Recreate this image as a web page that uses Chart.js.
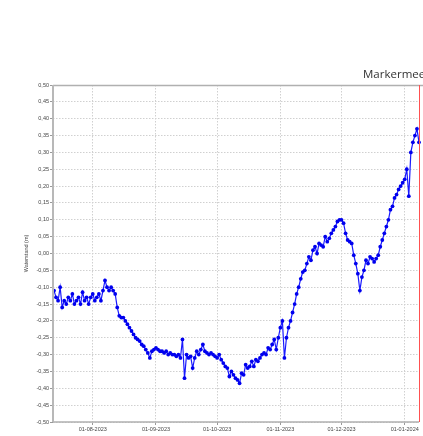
<!DOCTYPE html>
<html>
<head>
<meta charset="utf-8">
<script src="https://cdn.jsdelivr.net/npm/chart.js@4"></script>
<style>
  html, body { margin: 0; padding: 0; background: #fff; overflow: hidden; }
  #wrap { width: 423px; height: 436px; }
</style>
</head>
<body>
<div id="wrap"><canvas id="chart" width="423" height="436"></canvas></div>
<script>
// Waterstand Markermeer (m), one reading per day
const julyValues = [-0.11, -0.13, -0.14, -0.10, -0.16, -0.14, -0.15, -0.13, -0.14, -0.12,
    -0.15, -0.14, -0.13, -0.15, -0.115, -0.14, -0.13, -0.15, -0.13]; // 13-31 jul
const augValues = [-0.12, -0.14, -0.13, -0.12, -0.14, -0.11, -0.08, -0.10, -0.11, -0.10,
    -0.11, -0.12, -0.16, -0.185, -0.19, -0.19, -0.20, -0.21, -0.22, -0.23,
    -0.24, -0.25, -0.255, -0.26, -0.27, -0.275, -0.285, -0.295, -0.31, -0.29, -0.285];
const sepValues = [-0.28, -0.285, -0.29, -0.29, -0.295, -0.29, -0.30, -0.295, -0.30, -0.30,
    -0.305, -0.30, -0.31, -0.255, -0.37, -0.30, -0.31, -0.305, -0.34, -0.31,
    -0.29, -0.30, -0.285, -0.27, -0.29, -0.295, -0.30, -0.295, -0.30, -0.305];
const octValues = [-0.31, -0.30, -0.315, -0.325, -0.335, -0.34, -0.365, -0.35, -0.36, -0.37,
    -0.375, -0.385, -0.355, -0.36, -0.33, -0.34, -0.335, -0.32, -0.335, -0.315,
    -0.32, -0.31, -0.30, -0.295, -0.30, -0.28, -0.285, -0.27, -0.255, -0.285, -0.25];
const novValues = [-0.22, -0.20, -0.31, -0.25, -0.22, -0.20, -0.175, -0.15, -0.12, -0.10,
    -0.075, -0.055, -0.05, -0.03, -0.01, -0.02, 0.01, 0.02, 0.00, 0.03,
    0.025, 0.02, 0.05, 0.035, 0.045, 0.06, 0.07, 0.08, 0.095, 0.10];
const decValues = [0.10, 0.09, 0.06, 0.04, 0.035, 0.03, -0.005, -0.03, -0.06, -0.11,
    -0.07, -0.05, -0.02, -0.03, -0.01, -0.015, -0.025, -0.015, -0.005, 0.02,
    0.04, 0.06, 0.08, 0.10, 0.13, 0.14, 0.165, 0.175, 0.19, 0.20, 0.21];
const janValues = [0.22, 0.25, 0.17, 0.30, 0.33, 0.35, 0.37, 0.33]; // 1-8 jan

// first day of each block above
const blockStarts = ['2023-07-13', '2023-08-01', '2023-09-01', '2023-10-01',
    '2023-11-01', '2023-12-01', '2024-01-01'];
const blocks = [julyValues, augValues, sepValues, octValues, novValues, decValues, janValues];

// x axis tick labels (dd-mm-yyyy)
const xTickLabels = ['01-08-2023', '01-09-2023', '01-10-2023', '01-11-2023', '01-12-2023', '01-01-2024'];
const xRange = ['2023-07-12T12:00', '2024-01-08T00:00'];

const titleText = 'Markermeer';
const yTitle = 'Waterstand (m)';

const DAY = 86400000;
function parseIso(s) {
    const [d, t] = s.split('T');
    const [y, m, dd] = d.split('-').map(Number);
    const hh = t ? parseInt(t) : 0;
    return Date.UTC(y, m - 1, dd, hh);
}
function parseNl(s) {
    const [dd, m, y] = s.split('-').map(Number);
    return Date.UTC(y, m - 1, dd);
}
function fmtNl(ms) {
    const d = new Date(ms);
    const p = (n) => String(n).padStart(2, '0');
    return p(d.getUTCDate()) + '-' + p(d.getUTCMonth() + 1) + '-' + d.getUTCFullYear();
}

const points = [];
blocks.forEach((vals, b) => {
    const start = parseIso(blockStarts[b]);
    vals.forEach((v, i) => points.push({ x: start + i * DAY, y: v }));
});
const xTicks = xTickLabels.map(parseNl);

const tickFont = { family: 'Liberation Sans', size: 5.5 };

// title, axis frame and red end line
const framePlugin = {
    id: 'frame',
    afterDraw(chart) {
        const { ctx, chartArea: a } = chart;
        ctx.save();
        ctx.setLineDash([]);
        ctx.strokeStyle = '#b0b0b0';
        ctx.lineWidth = 1.5;
        ctx.beginPath();
        ctx.moveTo(a.left, a.top + 0.5);
        ctx.lineTo(chart.width, a.top + 0.5);
        ctx.moveTo(a.left, a.bottom);
        ctx.lineTo(a.right, a.bottom);
        ctx.stroke();
        ctx.lineWidth = 2;
        ctx.strokeStyle = '#b8b8b8';
        ctx.beginPath();
        ctx.moveTo(a.left, a.top);
        ctx.lineTo(a.left, a.bottom);
        ctx.stroke();
        ctx.strokeStyle = '#ff5050';
        ctx.lineWidth = 1;
        ctx.beginPath();
        ctx.moveTo(a.right + 0.5, a.top);
        ctx.lineTo(a.right + 0.5, a.bottom);
        ctx.stroke();
        ctx.fillStyle = '#333';
        ctx.font = '11.5px "Open Sans"';
        ctx.textBaseline = 'middle';
        ctx.fillText(titleText, 363, 75);
        ctx.restore();
    }
};

const gridOpts = {
    color: '#d0d0d0',
    lineWidth: 1,
    tickLength: 3,
    tickColor: '#999',
    tickBorderDash: []
};

new Chart(document.getElementById('chart'), {
    type: 'line',
    data: {
        datasets: [{
            label: yTitle,
            data: points,
            borderColor: '#1a1aff',
            backgroundColor: '#0000ff',
            borderWidth: 1.2,
            pointRadius: 1.9,
            pointBorderWidth: 0,
            pointBackgroundColor: '#0000ee',
            tension: 0,
            clip: false
        }]
    },
    options: {
        responsive: false,
        animation: false,
        layout: { padding: { left: 0, top: 85, right: 2, bottom: 0 } },
        plugins: {
            legend: { display: false },
            tooltip: { enabled: false }
        },
        scales: {
            x: {
                type: 'linear',
                min: parseIso(xRange[0]),
                max: parseIso(xRange[1]),
                afterBuildTicks: (scale) => {
                    scale.ticks = xTicks.map((v) => ({ value: v }));
                },
                afterFit: (scale) => { scale.height = 14; },
                ticks: {
                    autoSkip: false,
                    maxRotation: 0,
                    padding: 1,
                    color: '#444',
                    font: tickFont,
                    callback: (v) => fmtNl(v)
                },
                grid: gridOpts,
                border: { display: false, dash: [1.5, 1.5] }
            },
            y: {
                min: -0.5,
                max: 0.5,
                afterFit: (scale) => { scale.width = 53; },
                ticks: {
                    stepSize: 0.05,
                    padding: 1,
                    color: '#444',
                    font: tickFont,
                    callback: (v) => {
                        const r = Math.round(v * 100) / 100;
                        return (r === 0 ? 0 : r).toFixed(2).replace('.', ',');
                    }
                },
                grid: gridOpts,
                border: { display: false, dash: [1.5, 1.5] },
                title: {
                    display: true,
                    text: yTitle,
                    color: '#444',
                    font: tickFont,
                    padding: { top: 23, bottom: 0 }
                }
            }
        }
    },
    plugins: [framePlugin]
});
</script>
</body>
</html>
